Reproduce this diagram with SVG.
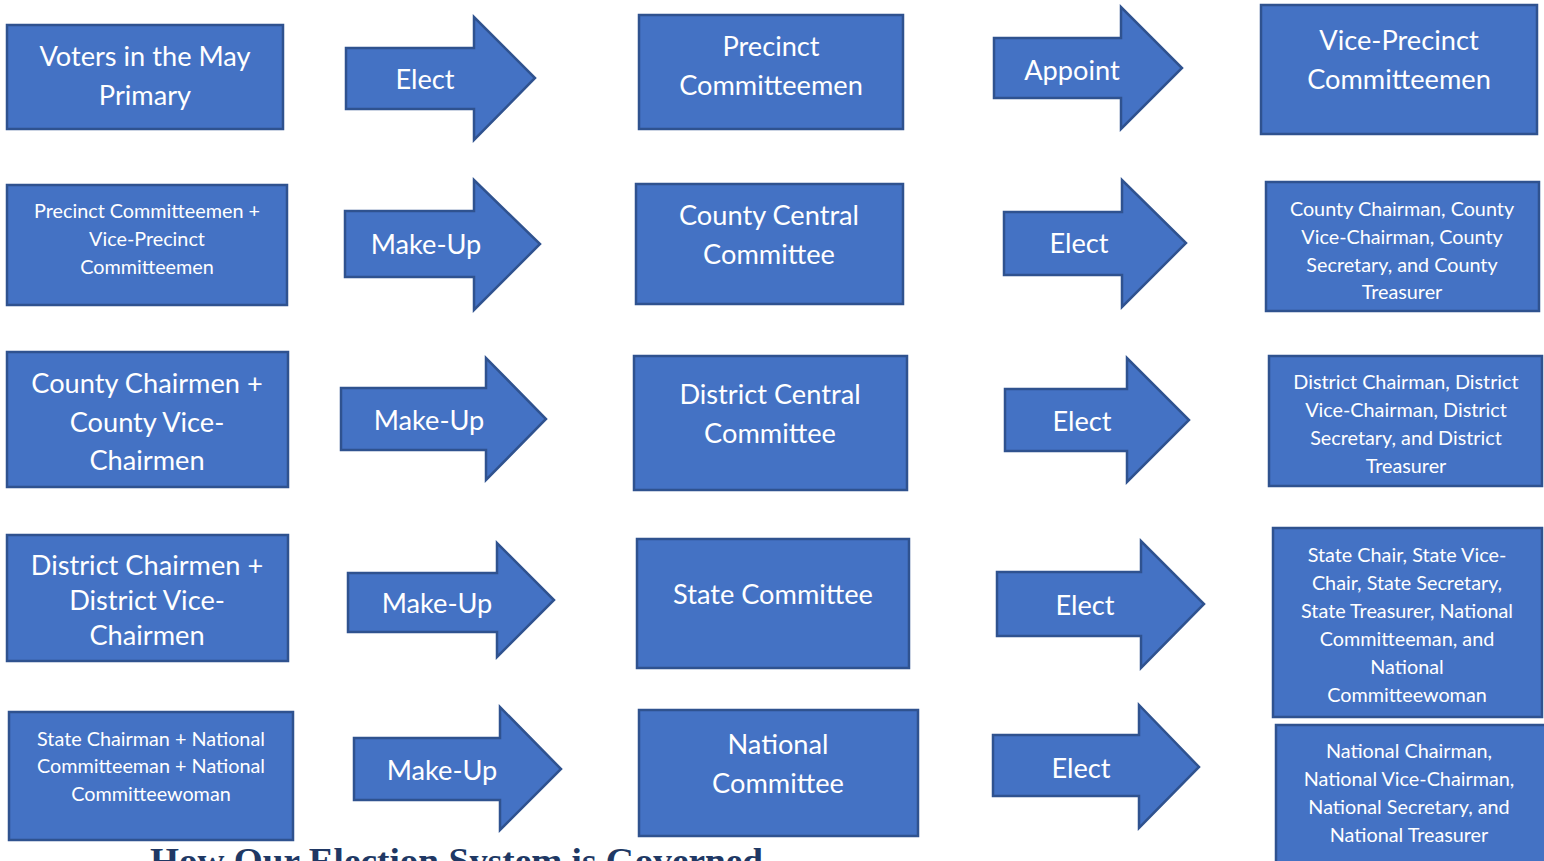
<svg xmlns="http://www.w3.org/2000/svg" width="1544" height="861" viewBox="0 0 1544 861">
<style>
.box{fill:#4472C4;stroke:#2F528F;stroke-width:2.5}
.arr{fill:#4472C4;stroke:#2F528F;stroke-width:2.5;stroke-linejoin:miter}
.t{font-family:Lato,"Liberation Sans",sans-serif;fill:#FFFFFF;text-anchor:middle;dominant-baseline:central}
.L{font-size:27.2px}
.S{font-size:19.8px}
.title{font-family:"Liberation Serif",serif;font-weight:bold;font-size:35px;fill:#203864}
</style>
<rect width="1544" height="861" fill="#FFFFFF"/>
<g id="connectors">
<g id="a1"><path class="arr" d="M346,48 H474 V17 L535,78 L474,140 V109 H346 Z"/><text class="t L" x="425" y="78">Elect</text></g>
<g id="a2"><path class="arr" d="M994,38 H1121 V7 L1182,68 L1121,129 V98 H994 Z"/><text class="t L" x="1072" y="69">Appoint</text></g>
<g id="a3"><path class="arr" d="M345,211 H474 V180 L540,244 L474,310 V277 H345 Z"/><text class="t L" x="426" y="243">Make-Up</text></g>
<g id="a4"><path class="arr" d="M1004,212 H1122 V180 L1186,243 L1122,307 V275 H1004 Z"/><text class="t L" x="1079" y="242">Elect</text></g>
<g id="a5"><path class="arr" d="M341,388 H486 V358 L546,419 L486,480 V450 H341 Z"/><text class="t L" x="429" y="419">Make-Up</text></g>
<g id="a6"><path class="arr" d="M1005,389 H1127 V358 L1189,420 L1127,482 V451 H1005 Z"/><text class="t L" x="1082" y="420">Elect</text></g>
<g id="a7"><path class="arr" d="M348,573 H497 V543 L554,600 L497,657 V632 H348 Z"/><text class="t L" x="437" y="602">Make-Up</text></g>
<g id="a8"><path class="arr" d="M997,572 H1141 V541 L1204,604 L1141,668 V636 H997 Z"/><text class="t L" x="1085" y="604">Elect</text></g>
<g id="a9"><path class="arr" d="M354,738 H500 V707 L561,769 L500,830 V800 H354 Z"/><text class="t L" x="442" y="769">Make-Up</text></g>
<g id="a10"><path class="arr" d="M993,735 H1139 V705 L1199,767 L1139,828 V796 H993 Z"/><text class="t L" x="1081" y="767">Elect</text></g>
</g>
<g id="n1"><rect class="box" x="7" y="25" width="276" height="104"/><text class="t L" x="145" y="55">Voters in the May</text><text class="t L" x="145" y="94">Primary</text></g>
<g id="n2"><rect class="box" x="639" y="15" width="264" height="114"/><text class="t L" x="771" y="45">Precinct</text><text class="t L" x="771" y="84">Committeemen</text></g>
<g id="n3"><rect class="box" x="1261" y="5" width="276" height="129"/><text class="t L" x="1399" y="39">Vice-Precinct</text><text class="t L" x="1399" y="78">Committeemen</text></g>
<g id="n4"><rect class="box" x="7" y="185" width="280" height="120"/><text class="t S" x="147" y="210">Precinct Committeemen +</text><text class="t S" x="147" y="238">Vice-Precinct</text><text class="t S" x="147" y="266">Committeemen</text></g>
<g id="n5"><rect class="box" x="636" y="184" width="267" height="120"/><text class="t L" x="769" y="214">County Central</text><text class="t L" x="769" y="253">Committee</text></g>
<g id="n6"><rect class="box" x="1266" y="182" width="273" height="129"/><text class="t S" x="1402" y="208">County Chairman, County</text><text class="t S" x="1402" y="236">Vice-Chairman, County</text><text class="t S" x="1402" y="264">Secretary, and County</text><text class="t S" x="1402" y="291">Treasurer</text></g>
<g id="n7"><rect class="box" x="7" y="352" width="281" height="135"/><text class="t L" x="147" y="382">County Chairmen +</text><text class="t L" x="147" y="421">County Vice-</text><text class="t L" x="147" y="459">Chairmen</text></g>
<g id="n8"><rect class="box" x="634" y="356" width="273" height="134"/><text class="t L" x="770" y="393">District Central</text><text class="t L" x="770" y="432">Committee</text></g>
<g id="n9"><rect class="box" x="1269" y="356" width="273" height="130"/><text class="t S" x="1406" y="381">District Chairman, District</text><text class="t S" x="1406" y="409">Vice-Chairman, District</text><text class="t S" x="1406" y="437">Secretary, and District</text><text class="t S" x="1406" y="465">Treasurer</text></g>
<g id="n10"><rect class="box" x="7" y="535" width="281" height="126"/><text class="t L" x="147" y="564">District Chairmen +</text><text class="t L" x="147" y="599">District Vice-</text><text class="t L" x="147" y="634">Chairmen</text></g>
<g id="n11"><rect class="box" x="637" y="539" width="272" height="129"/><text class="t L" x="773" y="593">State Committee</text></g>
<g id="n12"><rect class="box" x="1273" y="528" width="269" height="189"/><text class="t S" x="1407" y="554">State Chair, State Vice-</text><text class="t S" x="1407" y="582">Chair, State Secretary,</text><text class="t S" x="1407" y="610">State Treasurer, National</text><text class="t S" x="1407" y="638">Committeeman, and</text><text class="t S" x="1407" y="666">National</text><text class="t S" x="1407" y="694">Committeewoman</text></g>
<g id="n13"><rect class="box" x="9" y="712" width="284" height="128"/><text class="t S" x="151" y="738">State Chairman + National</text><text class="t S" x="151" y="765">Committeeman + National</text><text class="t S" x="151" y="793">Committeewoman</text></g>
<g id="n14"><rect class="box" x="639" y="710" width="279" height="126"/><text class="t L" x="778" y="743">National</text><text class="t L" x="778" y="782">Committee</text></g>
<g id="n15"><rect class="box" x="1276" y="725" width="272" height="150"/><text class="t S" x="1409" y="750">National Chairman,</text><text class="t S" x="1409" y="778">National Vice-Chairman,</text><text class="t S" x="1409" y="806">National Secretary, and</text><text class="t S" x="1409" y="834">National Treasurer</text></g>
<text class="title" x="150" y="873" textLength="613" lengthAdjust="spacingAndGlyphs">How Our Election System is Governed</text>
</svg>
